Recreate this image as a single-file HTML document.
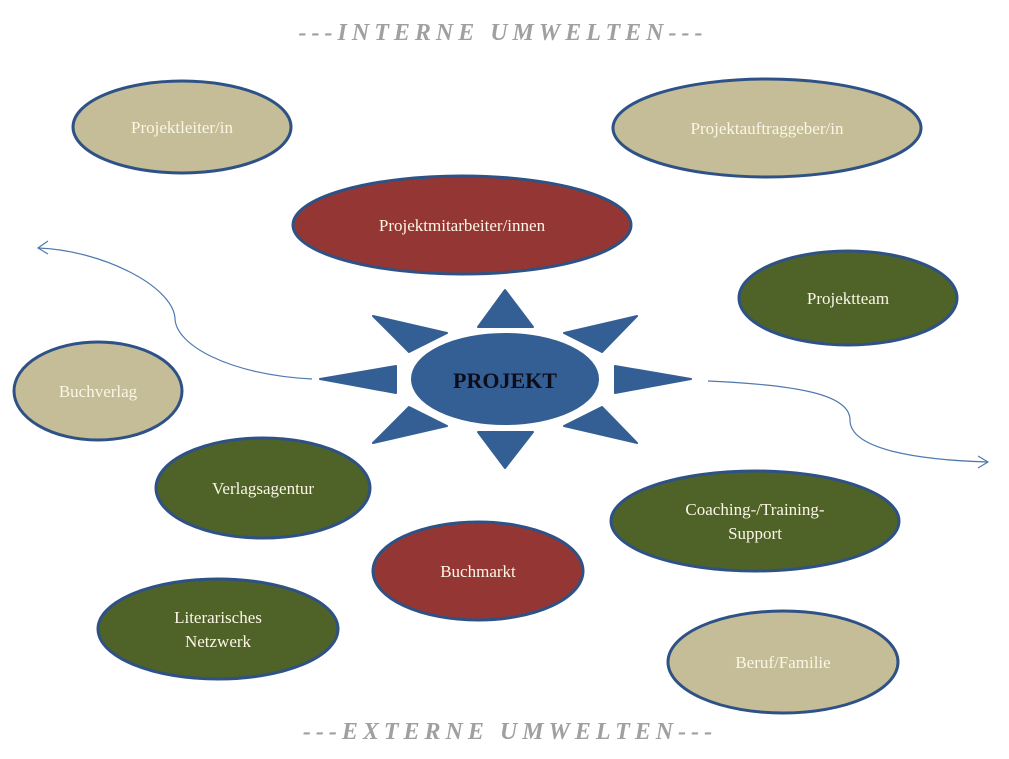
<!DOCTYPE html>
<html><head><meta charset="utf-8"><style>
html,body{margin:0;padding:0;background:#fff;}
svg{display:block;}
.t{font-family:"Liberation Serif",serif;font-size:17px;fill:#fbf6e6;text-anchor:middle;}
.h{font-family:"Liberation Serif",serif;font-size:24px;font-weight:bold;font-style:italic;fill:#a0a0a0;letter-spacing:5px;text-anchor:middle;}
</style></head><body>
<svg width="1009" height="759" viewBox="0 0 1009 759" xmlns="http://www.w3.org/2000/svg">
<text class="h" x="503" y="40">---INTERNE UMWELTEN---</text>
<text class="h" x="510" y="739">---EXTERNE UMWELTEN---</text>
<g fill="none" stroke="#4f7ab0" stroke-width="1.2">
<path d="M312,379 C230,375 175,345 175,318 C172,285 100,250 38,248"/>
<path d="M48,241 L38,248 L48,254"/>
<path d="M708,381 C800,385 850,395 850,420 C850,450 920,460 988,462"/>
<path d="M978,456 L988,462 L978,468"/>
</g>
<g stroke="#2e5286" stroke-width="3">
<ellipse cx="182" cy="127" rx="109" ry="46" fill="#c4bd97"/>
<ellipse cx="767" cy="128" rx="154" ry="49" fill="#c4bd97"/>
<ellipse cx="462" cy="225" rx="169" ry="49" fill="#943634"/>
<ellipse cx="848" cy="298" rx="109" ry="47" fill="#4f6228"/>
<ellipse cx="98" cy="391" rx="84" ry="49" fill="#c4bd97"/>
<ellipse cx="263" cy="488" rx="107" ry="50" fill="#4f6228"/>
<ellipse cx="755" cy="521" rx="144" ry="50" fill="#4f6228"/>
<ellipse cx="478" cy="571" rx="105" ry="49" fill="#943634"/>
<ellipse cx="218" cy="629" rx="120" ry="50" fill="#4f6228"/>
<ellipse cx="783" cy="662" rx="115" ry="51" fill="#c4bd97"/>
</g>
<g fill="#345f94" stroke="#345f94" stroke-width="2" stroke-linejoin="round">
<polygon points="505,290 478,327 533,327"/>
<polygon points="505,468 478,432 533,432"/>
<polygon points="320,379 396,366 396,393"/>
<polygon points="691,379 615,366 615,393"/>
<polygon points="373,316 447,333 409,352"/>
<polygon points="637,316 564,333 602,352"/>
<polygon points="373,443 447,426 409,407"/>
<polygon points="637,443 564,426 602,407"/>
<ellipse cx="505" cy="379" rx="93" ry="45"/>
</g>
<text x="505" y="388" font-family="Liberation Serif,serif" font-size="22" font-weight="bold" fill="#0d0d1a" text-anchor="middle">PROJEKT</text>
<text class="t" x="182" y="133">Projektleiter/in</text>
<text class="t" x="767" y="134">Projektauftraggeber/in</text>
<text class="t" x="462" y="231">Projektmitarbeiter/innen</text>
<text class="t" x="848" y="304">Projektteam</text>
<text class="t" x="98" y="397">Buchverlag</text>
<text class="t" x="263" y="494">Verlagsagentur</text>
<text class="t" x="755" y="515">Coaching-/Training-</text>
<text class="t" x="755" y="539">Support</text>
<text class="t" x="478" y="577">Buchmarkt</text>
<text class="t" x="218" y="623">Literarisches</text>
<text class="t" x="218" y="647">Netzwerk</text>
<text class="t" x="783" y="668">Beruf/Familie</text>
</svg>
</body></html>
